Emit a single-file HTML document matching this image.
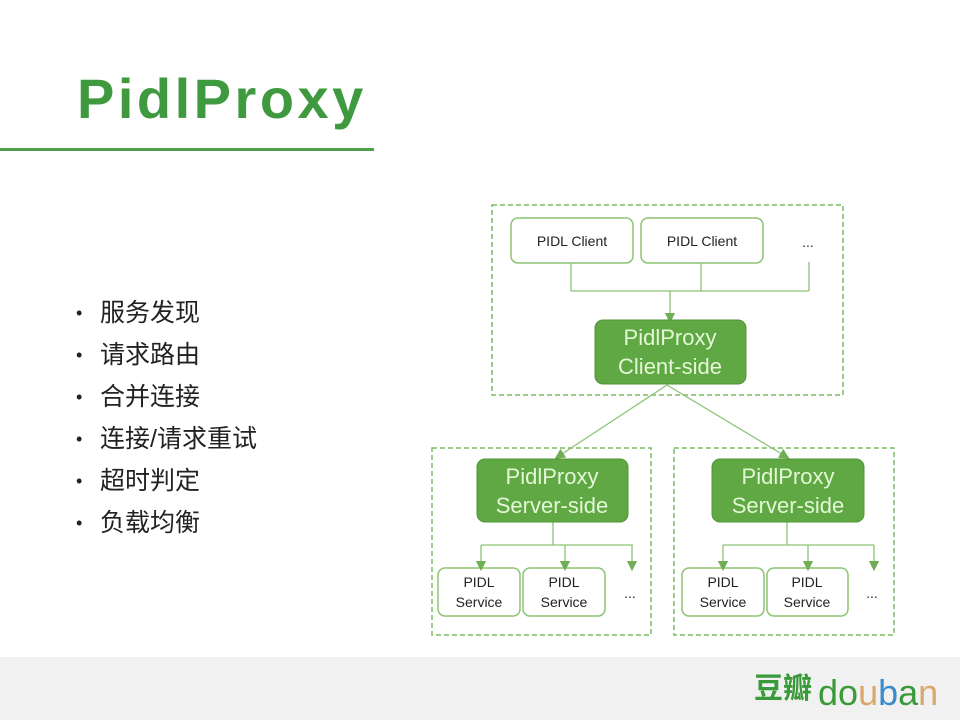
<!DOCTYPE html>
<html><head><meta charset="utf-8"><style>
body{margin:0;width:960px;height:720px;background:#fff;position:relative;overflow:hidden;font-family:"Liberation Sans","Noto Sans CJK SC",sans-serif}
.t{position:absolute;left:77px;top:66px;font-size:56px;font-weight:bold;color:#3f9a3f;letter-spacing:3.5px}
.ul{position:absolute;left:0;top:148px;width:374px;height:3px;background:#4ea04a}
ul{position:absolute;left:76px;top:295px;margin:0;padding:0;list-style:none;font-size:25px;color:#222}
li{height:42px;line-height:36px}
li:before{content:"•";display:inline-block;width:24px;font-size:18px;vertical-align:top}
.ft{position:absolute;left:0;top:657px;width:960px;height:63px;background:#f0f1f0}
</style></head><body>
<div class="t">PidlProxy</div><div class="ul"></div>
<ul><li>服务发现</li><li>请求路由</li><li>合并连接</li><li>连接/请求重试</li><li>超时判定</li><li>负载均衡</li></ul>
<div class="ft"></div>
<svg width="960" height="720" style="position:absolute;left:0;top:0" font-family="Liberation Sans, sans-serif">
<defs><marker id="a" markerWidth="8" markerHeight="8" refX="4" refY="4" orient="auto"><path d="M0,0 L8,4 L0,8z" fill="#6fae55"/></marker></defs>
<g fill="none" stroke="#7cbc63" stroke-width="1.5" stroke-dasharray="5,3">
<rect x="492" y="205" width="351" height="190"/>
<rect x="432" y="448" width="219" height="187"/>
<rect x="674" y="448" width="220" height="187"/>
</g>
<g fill="#fff" stroke="#8cc474" stroke-width="1.5">
<rect x="511" y="218" width="122" height="45" rx="7"/>
<rect x="641" y="218" width="122" height="45" rx="7"/>
<rect x="438" y="568" width="82" height="48" rx="7"/>
<rect x="523" y="568" width="82" height="48" rx="7"/>
<rect x="682" y="568" width="82" height="48" rx="7"/>
<rect x="767" y="568" width="81" height="48" rx="7"/>
</g>
<g stroke="#8cc474" stroke-width="1.3" fill="none">
<path d="M571 263V291M701 263V291M809 262V291M571 291H809"/>
<path d="M670 291V318" marker-end="url(#a)"/>
<path d="M667 385L559 456" marker-end="url(#a)"/>
<path d="M667 385L785 456" marker-end="url(#a)"/>
<path d="M553 522V545M481 545H633M787 522V545M723 545H874"/>
<path d="M481 545V566" marker-end="url(#a)"/>
<path d="M565 545V566" marker-end="url(#a)"/>
<path d="M632 545V566" marker-end="url(#a)"/>
<path d="M723 545V566" marker-end="url(#a)"/>
<path d="M808 545V566" marker-end="url(#a)"/>
<path d="M874 545V566" marker-end="url(#a)"/>
</g>
<g fill="#5fa843" stroke="#4f9436" stroke-width="1">
<rect x="595" y="320" width="151" height="64" rx="8"/>
<rect x="477" y="459" width="151" height="63" rx="8"/>
<rect x="712" y="459" width="152" height="63" rx="8"/>
</g>
<g fill="#e4f7d6" font-size="22" text-anchor="middle">
<text x="670" y="345">PidlProxy</text><text x="670" y="374">Client-side</text>
<text x="552" y="484">PidlProxy</text><text x="552" y="513">Server-side</text>
<text x="788" y="484">PidlProxy</text><text x="788" y="513">Server-side</text>
</g>
<g fill="#222" font-size="14" text-anchor="middle">
<text x="572" y="246">PIDL Client</text><text x="702" y="246">PIDL Client</text><text x="808" y="247">...</text>
<text x="479" y="587">PIDL</text><text x="479" y="607">Service</text>
<text x="564" y="587">PIDL</text><text x="564" y="607">Service</text>
<text x="723" y="587">PIDL</text><text x="723" y="607">Service</text>
<text x="807" y="587">PIDL</text><text x="807" y="607">Service</text>
<text x="630" y="598">...</text><text x="872" y="598">...</text>
</g>
<text x="754" y="698" font-size="29" font-weight="bold" fill="#3a9a3a" font-family="Noto Sans CJK SC, sans-serif">豆瓣</text>
<text x="818" y="705" font-size="36" font-family="Liberation Sans, sans-serif"><tspan fill="#3a9a3a">d</tspan><tspan fill="#3a9a3a">o</tspan><tspan fill="#d9a86a">u</tspan><tspan fill="#3a8ccc">b</tspan><tspan fill="#3a9a3a">a</tspan><tspan fill="#d9a86a">n</tspan></text>
</svg>
</body></html>
